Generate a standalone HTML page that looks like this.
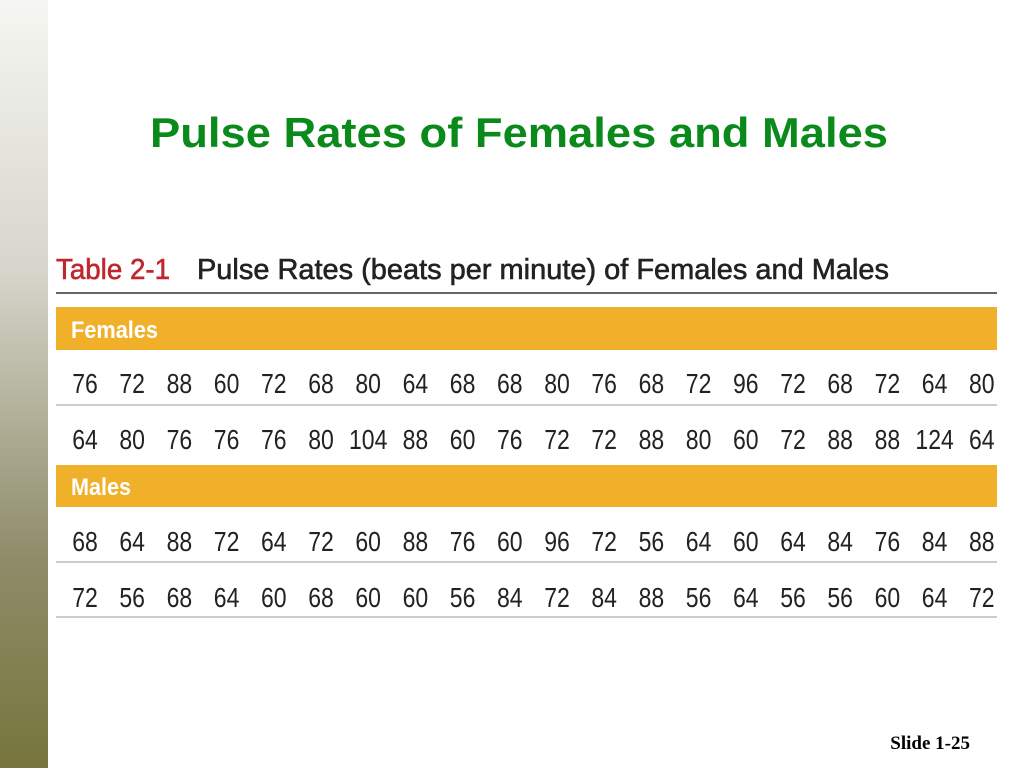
<!DOCTYPE html>
<html><head><meta charset="utf-8"><style>
html,body{margin:0;padding:0;background:#fff;}
svg{display:block;}
</style></head><body>
<svg width="1024" height="768" viewBox="0 0 1024 768">
<defs><linearGradient id="lg" x1="0" y1="0" x2="0" y2="1">
<stop offset="0" stop-color="#f6f6f2"/><stop offset="0.35" stop-color="#d6d6cc"/><stop offset="0.72" stop-color="#8f8d6a"/><stop offset="1" stop-color="#77753c"/></linearGradient></defs>
<rect x="0" y="0" width="48" height="768" fill="url(#lg)"/>
<text x="150" y="147" font-family="Liberation Sans, sans-serif" font-weight="bold" font-size="42" fill="#0a8a1a" textLength="738" lengthAdjust="spacingAndGlyphs">Pulse Rates of Females and Males</text>
<text x="56" y="279" font-family="Liberation Sans, sans-serif" font-size="29" fill="#c0272d" stroke="#c0272d" stroke-width="0.6" textLength="114" lengthAdjust="spacingAndGlyphs">Table 2-1</text>
<text x="197" y="279" font-family="Liberation Sans, sans-serif" font-size="29" fill="#222" stroke="#222" stroke-width="0.6" textLength="692" lengthAdjust="spacingAndGlyphs">Pulse Rates (beats per minute) of Females and Males</text>
<rect x="56" y="292" width="941" height="2" fill="#666"/>
<rect x="56" y="307" width="941" height="43" fill="#f0b02a"/>
<text x="71" y="338" font-family="Liberation Sans, sans-serif" font-weight="bold" font-size="24" fill="#fff" textLength="87" lengthAdjust="spacingAndGlyphs">Females</text>
<rect x="56" y="465" width="941" height="42" fill="#f0b02a"/>
<text x="71" y="495" font-family="Liberation Sans, sans-serif" font-weight="bold" font-size="24" fill="#fff" textLength="60" lengthAdjust="spacingAndGlyphs">Males</text>
<rect x="56" y="404" width="941" height="2" fill="#ccc"/>
<rect x="56" y="561" width="941" height="2" fill="#ccc"/>
<rect x="56" y="616" width="941" height="2" fill="#ccc"/>
<g id="cells"></g>
<text x="970" y="749" text-anchor="end" font-family="Liberation Serif, serif" font-weight="bold" font-size="19" fill="#000">Slide 1-25</text>
</svg>
<script>
const femalesRow1=[76,72,88,60,72,68,80,64,68,68,80,76,68,72,96,72,68,72,64,80];
const femalesRow2=[64,80,76,76,76,80,104,88,60,76,72,72,88,80,60,72,88,88,124,64];
const malesRow1=[68,64,88,72,64,72,60,88,76,60,96,72,56,64,60,64,84,76,84,88];
const malesRow2=[72,56,68,64,60,68,60,60,56,84,72,84,88,56,64,56,56,60,64,72];
const rows=[[femalesRow1,393],[femalesRow2,449],[malesRow1,551],[malesRow2,607]];
const g=document.getElementById('cells');
const NS='http://www.w3.org/2000/svg';
rows.forEach((r,ri)=>{r[0].forEach((v,i)=>{
 const s=String(v);
 const w=s.length*12.8;
 const t=document.createElementNS(NS,'text');
 t.setAttribute('x',85+47.2*i-w/2);
 t.setAttribute('y',r[1]);
 t.setAttribute('font-family','Liberation Sans, sans-serif');
 t.setAttribute('font-size','28');
 t.setAttribute('fill','#222');
 t.setAttribute('textLength',w);
 t.setAttribute('lengthAdjust','spacingAndGlyphs');
 
 
 t.textContent=s;
 g.appendChild(t);
});});
</script>
</body></html>
